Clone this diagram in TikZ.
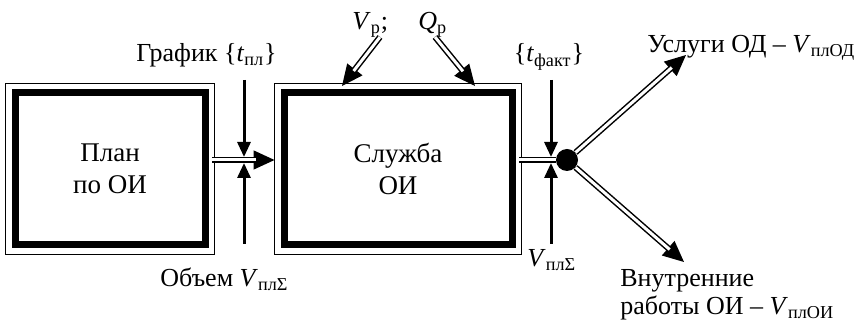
\documentclass[tikz,border=0pt]{standalone}
\usepackage{fontspec}
\setmainfont{Liberation Serif}
\usetikzlibrary{arrows.meta}

\begin{document}
\begin{tikzpicture}[
    x=0.5pt, y=-0.5pt,
    every node/.style={font=\fontsize{13}{14}\selectfont},
    box/.style={
        draw,
        line width=3.5pt,
        minimum height=76pt,
        align=center,
        font=\fontsize{13.5}{16}\selectfont
    },
    frame/.style={line width=0.75pt},
    lbl/.style={inner sep=0pt},
    arrow/.style={-{Triangle[length=7.5pt,width=6.5pt]}, line width=1.5pt},
    head/.style={-{Triangle[length=10.5pt,width=9.5pt]}, line width=0.75pt},
    dbl/.style={double, double distance=1.5pt, line width=0.75pt}
]
\useasboundingbox (0,0) rectangle (858,325);

% Boxes
\node[box, minimum width=95pt] (plan) at (110,169) {План\\по ОИ};
\node[box, minimum width=114pt] (sluzhba) at (398,169) {Служба\\ОИ};
\draw[frame] ([shift={(-3pt,3pt)}]plan.north west) rectangle ([shift={(3pt,-3pt)}]plan.south east);
\draw[frame] ([shift={(-3pt,3pt)}]sluzhba.north west) rectangle ([shift={(3pt,-3pt)}]sluzhba.south east);

% Branch point
\node[circle, fill, inner sep=0pt, minimum size=11pt] (dot) at (567,160) {};

% Labels
\node[lbl, anchor=base east] (grafik) at (277,62) {График \{\textit{t}\textsubscript{пл}\}};
\node[lbl, anchor=base west] (objem) at (160,287) {Объем \textit{V}\textsubscript{плΣ}};
\node[lbl, anchor=base west] (vr) at (352,30) {\textit{V}\textsubscript{р};};
\node[lbl, anchor=base west] (qr) at (418,30) {\textit{Q}\textsubscript{р}};
\node[lbl, anchor=base] (tfakt) at (549,62) {\{\textit{t}\textsubscript{факт}\}};
\node[lbl, anchor=base west] (vsum) at (527,267) {\textit{V}\textsubscript{плΣ}};
\node[lbl, anchor=base west] (uslugi) at (647,53) {Услуги ОД – \textit{V}\textsubscript{плОД}};
\node[lbl, anchor=north west, align=left] (vnutr) at (620,269) {Внутренние\\работы ОИ – \textit{V}\textsubscript{плОИ}};

% Free ends
\coordinate (grafik top) at (244,80);
\coordinate (grafik tip) at (244,157);
\coordinate (objem bot) at (244,244);
\coordinate (objem tip) at (244,163);
\coordinate (tfakt top) at (551,80);
\coordinate (tfakt tip) at (551,157);
\coordinate (vsum bot) at (551,244);
\coordinate (vsum tip) at (551,163);
\coordinate (vr start) at (380,37);
\coordinate (vr tip) at (342,86);
\coordinate (qr start) at (435,37);
\coordinate (qr tip) at (475,86);
\coordinate (uslugi tip) at (686,55);
\coordinate (vnutr tip) at (684,262);

% Single arrows
\draw[arrow] (grafik top) -- (grafik tip);
\draw[arrow] (objem bot) -- (objem tip);
\draw[arrow] (tfakt top) -- (tfakt tip);
\draw[arrow] (vsum bot) -- (vsum tip);

% Double arrows
\draw[head] ([xshift=1.75pt,yshift=4.5pt]plan.east) -- ([xshift=-3pt,yshift=4.5pt]sluzhba.west);
\draw[dbl, shorten >=9.5pt] ([xshift=1.75pt,yshift=4.5pt]plan.east) -- ([xshift=-3pt,yshift=4.5pt]sluzhba.west);
\draw[dbl] ([xshift=1.75pt,yshift=4.5pt]sluzhba.east) -- (dot);

\draw[head] (vr start) -- (vr tip);
\draw[dbl, shorten >=9.5pt] (vr start) -- (vr tip);
\draw[head] (qr start) -- (qr tip);
\draw[dbl, shorten >=9.5pt] (qr start) -- (qr tip);

\draw[head] (dot) -- (uslugi tip);
\draw[dbl, shorten >=9.5pt] (dot) -- (uslugi tip);
\draw[head] (dot) -- (vnutr tip);
\draw[dbl, shorten >=9.5pt] (dot) -- (vnutr tip);

\end{tikzpicture}
\end{document}
